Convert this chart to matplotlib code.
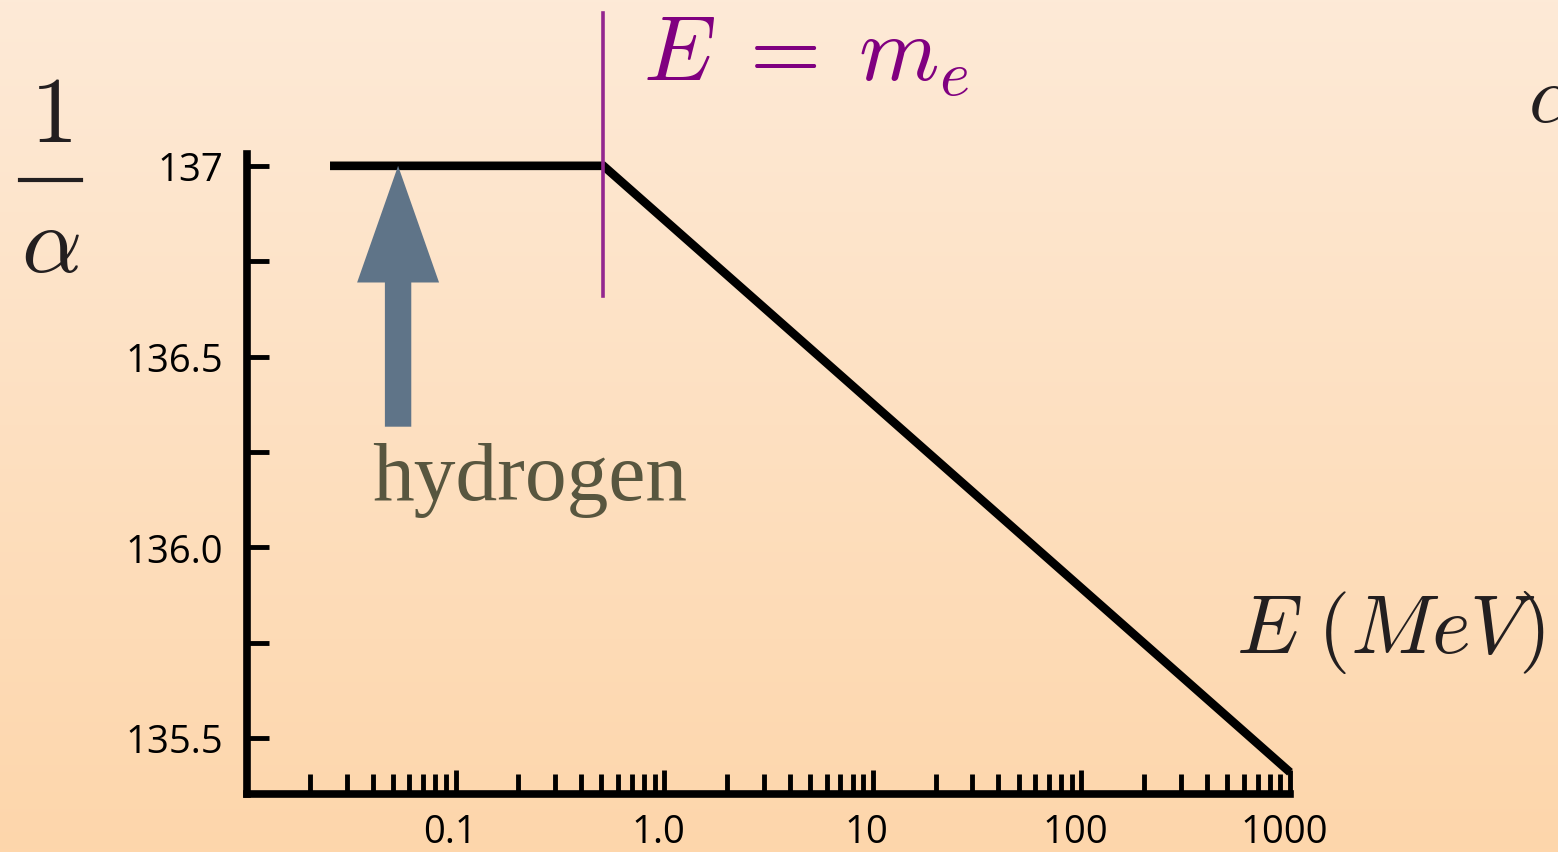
import matplotlib
matplotlib.use("Agg")
import matplotlib.pyplot as plt
import matplotlib.transforms as mtransforms
from matplotlib.ticker import FixedLocator, NullFormatter
import numpy as np

plt.rcParams['mathtext.fontset'] = 'cm'

# data
energy = [0.025, 0.511, 1000.0]       # MeV
inv_alpha = [137.0, 137.0, 135.41]
m_e = 0.511
hydrogen_E = 0.053
major_x = [0.1, 1.0, 10.0, 100.0, 1000.0]
major_x_labels = ["0.1", "1.0", "10", "100", "1000"]
major_y = [135.5, 136.0, 136.5, 137.0]
major_y_labels = ["135.5", "136.0", "136.5", "137"]
minor_y = [135.75, 136.25, 136.75]

W, H = 1558, 853
fig = plt.figure(figsize=(W / 100, H / 100), dpi=100)

# background gradient
bg = fig.add_axes([0, 0, 1, 1], zorder=-10)
top = np.array([253, 234, 215]) / 255
bottom = np.array([254, 214, 171]) / 255
t = np.linspace(0, 1, 256)[:, None]
grad = top[None, :] * (1 - t) + bottom[None, :] * t
bg.imshow(grad[:, None, :], aspect='auto', extent=[0, 1, 0, 1])
bg.axis('off')

ax = fig.add_axes([247 / W, 1 - 795 / H, (1290 - 247) / W, (795 - 155) / H])
ax.patch.set_alpha(0)
ax.set_xscale('log')
ax.set_xlim(0.01, 1000)
ax.set_ylim(135.353, 137.031)

ax.plot(energy, inv_alpha, color='black', lw=6.2, solid_capstyle='butt',
        solid_joinstyle='miter', clip_on=False, zorder=3)

# E = m_e marker
ax.plot([m_e, m_e], [136.66, 137.40], color='#93278F', lw=2.6, clip_on=False, zorder=4)

# hydrogen arrow
ax.annotate('', xy=(hydrogen_E, 137.0), xytext=(hydrogen_E, 136.316),
            arrowprops=dict(width=19, headwidth=59, headlength=84, shrink=0,
                            facecolor='#5f7488', edgecolor='none'), zorder=5)

for s in ['top', 'right']:
    ax.spines[s].set_visible(False)
ax.spines['left'].set_linewidth(5.5)
ax.spines['bottom'].set_linewidth(5.5)

ax.xaxis.set_major_locator(FixedLocator(major_x))
ax.set_xticklabels(major_x_labels)
minor_x = [m * d for d in [0.01, 0.1, 1, 10, 100] for m in range(2, 10)]
ax.xaxis.set_minor_locator(FixedLocator(minor_x))
ax.xaxis.set_minor_formatter(NullFormatter())
ax.set_yticks(major_y)
ax.set_yticklabels(major_y_labels)
ax.set_yticks(minor_y, minor=True)

ax.tick_params(axis='x', which='major', direction='in', length=17, width=3.5,
               pad=14, labelsize=27.5)
ax.tick_params(axis='x', which='minor', direction='in', length=14.5, width=3.5)
ax.tick_params(axis='y', which='both', direction='in', length=16, width=3.5,
               pad=17, labelsize=27.5)
for lbl in ax.get_xticklabels() + ax.get_yticklabels():
    lbl.set_family('Open Sans')
offset = mtransforms.ScaledTranslation(-6 / 100, 0, fig.dpi_scale_trans)
for lbl in ax.get_xticklabels():
    lbl.set_transform(lbl.get_transform() + offset)

# labels placed in figure pixels
def px(x, y):
    return x / W, 1 - y / H

fig.text(*px(372, 500), "hydrogen", fontsize=60, color='#58563f',
         family='Liberation Serif', ha='left', va='baseline')
fig.text(*px(643, 80), r"$E\;=\;m_e$", fontsize=66, color='#800080', ha='left', va='baseline')
fig.text(*px(1236, 653), r"$E\;(MeV)$", fontsize=60, color='#231f20', ha='left', va='baseline')
fig.text(*px(51, 142), r"$1$", fontsize=68, color='#231f20', ha='center', va='baseline')
fig.add_artist(plt.Line2D([20 / W, 81 / W], [1 - 181 / H, 1 - 181 / H],
                          color='#231f20', lw=3, transform=fig.transFigure))
fig.text(*px(50, 272), r"$\alpha$", fontsize=68, color='#231f20', ha='center', va='baseline')
fig.text(*px(1528, 122), r"$\alpha$", fontsize=58, color='#231f20', ha='left', va='baseline')

fig.savefig("out.png", dpi=100)
